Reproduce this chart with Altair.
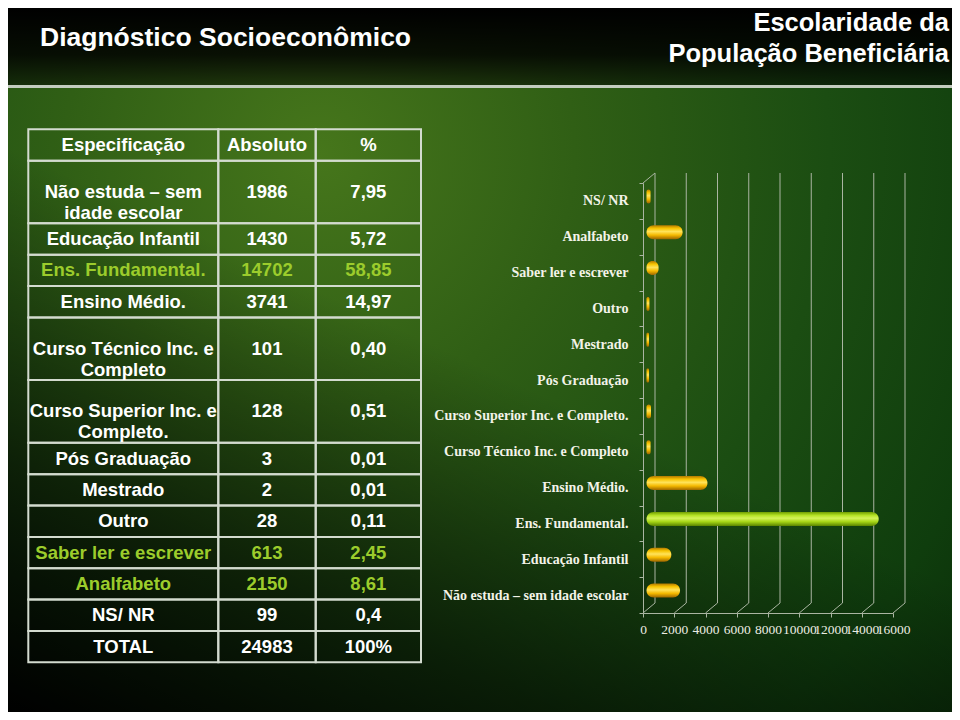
import altair as alt
import pandas as pd

# ---------------- data ----------------
TITLE_LEFT = "Diagnóstico Socioeconômico"
TITLE_RIGHT = "Escolaridade da\nPopulação Beneficiária"

HEADERS = ["Especificação", "Absoluto", "%"]
CATEGORIES = [
    "Não estuda – sem\nidade escolar",
    "Educação Infantil",
    "Ens. Fundamental.",
    "Ensino Médio.",
    "Curso Técnico Inc. e\nCompleto",
    "Curso Superior Inc. e\nCompleto.",
    "Pós Graduação",
    "Mestrado",
    "Outro",
    "Saber ler e escrever",
    "Analfabeto",
    "NS/ NR",
]
ABSOLUTO = [1986, 1430, 14702, 3741, 101, 128, 3, 2, 28, 613, 2150, 99]
PERCENT = ["7,95", "5,72", "58,85", "14,97", "0,40", "0,51", "0,01", "0,01",
           "0,11", "2,45", "8,61", "0,4"]
TOTAL_ROW = ["TOTAL", "24983", "100%"]
HIGHLIGHT = ["Ens. Fundamental.", "Saber ler e escrever", "Analfabeto"]
TOP_CATEGORY = "Ens. Fundamental."
X_TICKS = [0, 2000, 4000, 6000, 8000, 10000, 12000, 14000, 16000]

# ---------------- layout ----------------
W, H = 944, 704
COL_EDGES = [0, 190, 287.4, 392.7]          # table column edges (px)
TABLE_X_RANGE = [20.3, 413]
TABLE_Y_RANGE = [121.3, 654.3]
BAR_Y_RANGE = [175, 605]
AXIS_X_RANGE = [635, 885]
BAR_X_RANGE = [639, 889]

WHITE = "#ffffff"
GREEN_TXT = "#9ccc2c"
LINE = "#d3dbcf"
GRID = "#aab5a2"

dummy = pd.DataFrame({"d": [0]})

# ---------------- table frame ----------------
plain = [c.replace("\n", " ") for c in CATEGORIES]
rows = [(HEADERS, "")] + [
    ([c, str(a), p], k) for c, a, p, k in zip(CATEGORIES, ABSOLUTO, PERCENT, plain)
] + [(TOTAL_ROW, "TOTAL")]

cells = []
top = 0
for texts, key in rows:
    units = max(t.count("\n") + 1 for t in texts)
    for ci, t in enumerate(texts):
        cells.append({
            "x0": COL_EDGES[ci], "x1": COL_EDGES[ci + 1],
            "xc": (COL_EDGES[ci] + COL_EDGES[ci + 1]) / 2,
            "y0": top, "y1": top + units, "yc": top + units / 2,
            "text": t, "key": key,
        })
    top += units
table_df = pd.DataFrame(cells)
tx = alt.Scale(domain=[0, COL_EDGES[-1]], range=TABLE_X_RANGE)
ty = alt.Scale(domain=[0, top], range=TABLE_Y_RANGE)

table_cells = alt.Chart(table_df).mark_rect(
    fill="transparent", stroke=LINE, strokeWidth=2
).encode(
    x=alt.X("x0:Q", scale=tx, axis=None), x2="x1:Q",
    y=alt.Y("y0:Q", scale=ty, axis=None), y2="y1:Q",
)

table_text = alt.Chart(table_df).mark_text(
    font="Liberation Sans", fontWeight="bold", fontSize=18.5,
    lineBreak="\n", lineHeight=21, align="center", baseline="middle",
).encode(
    x=alt.X("xc:Q", scale=tx, axis=None),
    y=alt.Y("yc:Q", scale=ty, axis=None),
    text="text:N",
    color=alt.condition(alt.FieldOneOfPredicate(field="key", oneOf=HIGHLIGHT),
                        alt.value(GREEN_TXT), alt.value(WHITE)),
)

# ---------------- background ----------------
radial = alt.RadialGradient(
    gradient="radial", x1=0.33, y1=0.28, r1=0, x2=0.33, y2=0.28, r2=0.9,
    stops=[
        alt.GradientStop(offset=0, color="#46761b"),
        alt.GradientStop(offset=0.3, color="#305f15"),
        alt.GradientStop(offset=0.6, color="#1b4d12"),
        alt.GradientStop(offset=0.85, color="#0f3d0d"),
        alt.GradientStop(offset=1, color="#0a2c09"),
    ],
)
bg = alt.Chart(dummy).mark_rect(fill=radial).encode(
    x=alt.value(0), x2=alt.value(W), y=alt.value(0), y2=alt.value(H))

vignette = alt.Chart(dummy).mark_rect(fill=alt.LinearGradient(
    gradient="linear", x1=0, y1=1, x2=0.36, y2=0.42,
    stops=[alt.GradientStop(offset=0, color="rgba(0,0,0,1)"),
           alt.GradientStop(offset=0.45, color="rgba(0,0,0,0.6)"),
           alt.GradientStop(offset=1, color="rgba(0,0,0,0)")],
)).encode(x=alt.value(0), x2=alt.value(W), y=alt.value(0), y2=alt.value(H))

header_bg = alt.Chart(dummy).mark_rect(fill=alt.LinearGradient(
    gradient="linear", x1=0, y1=0, x2=0, y2=1,
    stops=[alt.GradientStop(offset=0, color="rgba(0,0,0,1)"),
           alt.GradientStop(offset=0.6, color="rgba(0,0,0,0.85)"),
           alt.GradientStop(offset=1, color="rgba(0,0,0,0.5)")],
)).encode(x=alt.value(0), x2=alt.value(W), y=alt.value(0), y2=alt.value(78))

divider = alt.Chart(dummy).mark_rule(stroke="#c3ccbf", strokeWidth=3).encode(
    x=alt.value(-8), x2=alt.value(W + 8), y=alt.value(78.5))

title_l = alt.Chart(dummy).mark_text(
    font="Liberation Sans", fontWeight="bold", fontSize=26.5, color=WHITE,
    align="left", baseline="alphabetic",
).encode(x=alt.value(32), y=alt.value(38), text=alt.value(TITLE_LEFT))

title_r = alt.Chart(dummy).mark_text(
    font="Liberation Sans", fontWeight="bold", fontSize=25.5, color=WHITE,
    align="right", baseline="alphabetic", lineBreak="\n", lineHeight=31,
).encode(x=alt.value(941), y=alt.value(23), text=alt.value(TITLE_RIGHT))

# ---------------- bar chart ----------------
ticks_df = pd.DataFrame({"t": X_TICKS})
ax = alt.Scale(domain=[0, X_TICKS[-1]], range=AXIS_X_RANGE)

grid = alt.Chart(ticks_df).mark_rule(stroke=GRID, strokeWidth=1, xOffset=12).encode(
    x=alt.X("t:Q", scale=ax, axis=alt.Axis(
        orient="bottom", offset=-(H - BAR_Y_RANGE[1]), values=X_TICKS, format="d",
        title=None, grid=False, labelFont="Liberation Serif", labelFontSize=13.5,
        labelColor="#ecece2", labelOverlap=False, labelFlush=False, labelBound=False,
        labelPadding=5, tickSize=4, tickColor=GRID, domainColor=GRID, zindex=2)),
    y=alt.value(BAR_Y_RANGE[0] - 10), y2=alt.value(BAR_Y_RANGE[1] - 10),
)

diag = alt.Chart(ticks_df).mark_rule(stroke=GRID, strokeWidth=1, x2Offset=12).encode(
    x=alt.X("t:Q", scale=ax, axis=None), x2="t:Q",
    y=alt.value(BAR_Y_RANGE[1]), y2=alt.value(BAR_Y_RANGE[1] - 10),
)
diag_top = alt.Chart(ticks_df).transform_filter("datum.t == 0").mark_rule(
    stroke=GRID, strokeWidth=1, x2Offset=12).encode(
    x=alt.X("t:Q", scale=ax, axis=None), x2="t:Q",
    y=alt.value(BAR_Y_RANGE[0]), y2=alt.value(BAR_Y_RANGE[0] - 10),
)

bars_df = pd.DataFrame({"cat": plain, "val": ABSOLUTO})
bar_order = plain[::-1]

gold = alt.LinearGradient(gradient="linear", x1=0, y1=0, x2=0, y2=1, stops=[
    alt.GradientStop(offset=0, color="#b37a00"),
    alt.GradientStop(offset=0.22, color="#f7c400"),
    alt.GradientStop(offset=0.45, color="#ffe35a"),
    alt.GradientStop(offset=0.7, color="#f5b900"),
    alt.GradientStop(offset=1, color="#9a6400"),
])
lime = alt.LinearGradient(gradient="linear", x1=0, y1=0, x2=0, y2=1, stops=[
    alt.GradientStop(offset=0, color="#6f9c00"),
    alt.GradientStop(offset=0.25, color="#b5e326"),
    alt.GradientStop(offset=0.45, color="#d4f25a"),
    alt.GradientStop(offset=0.7, color="#a6d616"),
    alt.GradientStop(offset=1, color="#5b8500"),
])

bars = alt.Chart(bars_df).mark_bar(
    height=14, yOffset=-4.5, cornerRadius=7, xOffset=2, x2Offset=-0.5,
).encode(
    x=alt.X("val:Q", scale=alt.Scale(domain=[0, X_TICKS[-1]], range=BAR_X_RANGE),
            axis=None),
    x2=alt.datum(0),
    y=alt.Y("cat:N", sort=bar_order,
            scale=alt.Scale(domain=bar_order, range=BAR_Y_RANGE,
                            paddingInner=0, paddingOuter=0),
            axis=alt.Axis(orient="left", offset=-AXIS_X_RANGE[0], title=None,
                          labelFont="Liberation Serif", labelFontWeight="bold",
                          labelFontSize=14, labelColor="#f3f3e8", labelPadding=11,
                          labelLimit=400, tickSize=4, tickColor=GRID,
                          domainColor=GRID, tickBand="extent", grid=False,
                          zindex=2)),
    fill=alt.condition(alt.datum.cat == TOP_CATEGORY, alt.value(lime), alt.value(gold)),
)

chart = alt.layer(
    bg, vignette, header_bg, divider, title_l, title_r,
    table_cells, table_text, grid, diag, diag_top, bars,
).resolve_scale(
    x="independent", y="independent"
).resolve_axis(
    x="independent", y="independent"
).properties(
    width=W, height=H, padding=0,
    autosize=alt.AutoSizeParams(type="none"),
).configure_view(stroke=None).configure(background="#000000")

chart.save("out.html", embed_options={"renderer": "svg", "actions": False})
